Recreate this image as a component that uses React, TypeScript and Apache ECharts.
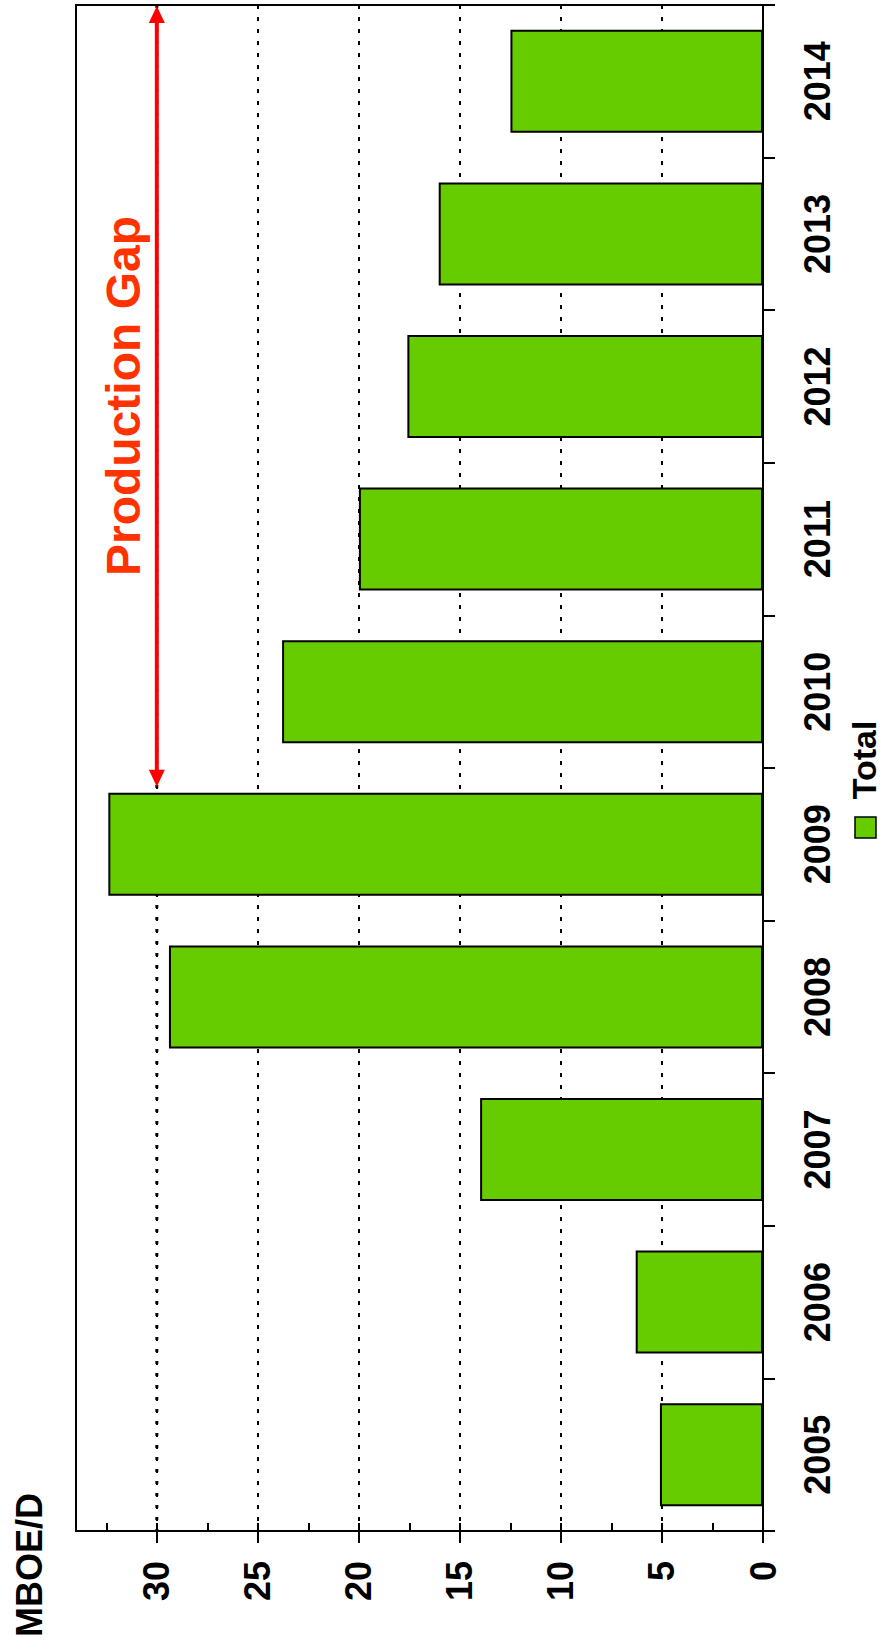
import React, { useEffect, useRef } from "react";
import * as echarts from "echarts";

const years = ["2005", "2006", "2007", "2008", "2009", "2010", "2011", "2012", "2013", "2014"];
const totals = [5.1, 6.3, 14.0, 29.4, 32.4, 23.8, 20.0, 17.6, 16.05, 12.5];
const valueTicks = [0, 5, 10, 15, 20, 25, 30];
const minorTicks = [0, 2.5, 5, 7.5, 10, 12.5, 15, 17.5, 20, 22.5, 25, 27.5, 30, 32.5];
const gapValue = 30;
const gapEndYear = "2009";
const seriesName = "Total";
const unitLabel = "MBOE/D";
const gapLabel = "Production Gap";

const FONT = "'Liberation Sans', Arial, Helvetica, sans-serif";
const GREEN = "#66cc00";
const GAP = 0.325;

export default function App() {
  const ref = useRef<HTMLDivElement>(null);
  useEffect(() => {
    const chart = echarts.init(ref.current!, null, { renderer: "svg" });
    const lineStyle = { color: "#000", width: 2 };
    const labelBase = { color: "#000", fontFamily: FONT, fontWeight: "bold", fontSize: 36 };
    chart.setOption({
      animation: false,
      grid: { left: 76, right: 119, top: 5, bottom: 119, show: true, borderColor: "#000", borderWidth: 2 },
      xAxis: [
        {
          type: "value", min: 0, max: 34, inverse: true, position: "bottom", interval: 5,
          axisLine: { show: true, lineStyle },
          axisTick: { show: true, length: 12, inside: false, customValues: valueTicks, lineStyle },
          axisLabel: { ...labelBase, customValues: valueTicks, rotate: 90, margin: 30 },
          splitLine: { show: true, lineStyle: { color: "#000", width: 2, type: [4, 8] } },
        },
        {
          type: "value", min: 0, max: 34, inverse: true, position: "bottom",
          axisLine: { show: false },
          axisTick: { show: true, inside: true, length: 8, customValues: minorTicks, lineStyle },
          axisLabel: { show: false },
          splitLine: { show: false },
        },
      ],
      yAxis: {
        type: "category", data: years, position: "right",
        axisLine: { show: true, lineStyle },
        axisTick: { show: true, length: 12, alignWithLabel: false, lineStyle },
        axisLabel: { ...labelBase, rotate: 90, margin: 36 },
        splitLine: { show: false },
      },
      series: [
        {
          type: "bar", name: seriesName, data: totals, xAxisIndex: 0, yAxisIndex: 0,
          barCategoryGap: GAP * 100 + "%",
          itemStyle: { color: GREEN, borderColor: "#000", borderWidth: 2 },
        },
      ],
    });

    const x30 = chart.convertToPixel({ xAxisIndex: 0 }, gapValue) as number;
    const yA = chart.convertToPixel({ yAxisIndex: 0 }, years[0]) as number;
    const yB = chart.convertToPixel({ yAxisIndex: 0 }, years[1]) as number;
    const band = yA - yB;
    const yLast = chart.convertToPixel({ yAxisIndex: 0 }, years[years.length - 1]) as number;
    const gridTop = yLast - band / 2;
    const gridBottom = yA + band / 2;
    const yEnd = chart.convertToPixel({ yAxisIndex: 0 }, gapEndYear) as number;
    const barTop = yEnd - (band * (1 - GAP)) / 2;
    const topTip = gridTop + 1;
    const botTip = barTop - 6;
    const head = 17;
    const half = 8;

    chart.setOption({
      graphic: [
        {
          type: "line", z: 1, silent: true,
          shape: { x1: x30, y1: gridTop, x2: x30, y2: gridBottom },
          style: { stroke: "#000", lineWidth: 3, lineDash: [3, 9] },
        },
        {
          type: "line", z: 20, silent: true,
          shape: { x1: x30, y1: topTip + head - 2, x2: x30, y2: botTip - head + 2 },
          style: { stroke: "#ff0000", lineWidth: 4 },
        },
        {
          type: "polygon", z: 20, silent: true,
          shape: { points: [[x30, topTip], [x30 - half, topTip + head], [x30 + half, topTip + head]] },
          style: { fill: "#ff0000" },
        },
        {
          type: "polygon", z: 20, silent: true,
          shape: { points: [[x30, botTip], [x30 - half, botTip - head], [x30 + half, botTip - head]] },
          style: { fill: "#ff0000" },
        },
        {
          type: "text", z: 20, silent: true, x: x30 - 33, y: 396, rotation: Math.PI / 2,
          style: { text: gapLabel, fill: "#ff3300", font: `bold 48px ${FONT}`, align: "center", verticalAlign: "middle" },
        },
        {
          type: "rect", z: 20, silent: true,
          shape: { x: 855, y: 817, width: 21, height: 21 },
          style: { fill: GREEN, stroke: "#000", lineWidth: 1.5 },
        },
        {
          type: "text", z: 20, silent: true, x: 864, y: 760, rotation: Math.PI / 2,
          style: { text: seriesName, fill: "#000", font: `bold 34px ${FONT}`, align: "center", verticalAlign: "middle" },
        },
        {
          type: "text", z: 20, silent: true, x: 29, y: 1565, rotation: Math.PI / 2,
          style: { text: unitLabel, fill: "#000", font: `bold 36px ${FONT}`, align: "center", verticalAlign: "middle" },
        },
      ],
    });

    return () => chart.dispose();
  }, []);
  return (
    <div style={{ position: "absolute", left: 0, top: 0 }}>
      <div ref={ref} style={{ width: 882, height: 1650 }} />
    </div>
  );
}
